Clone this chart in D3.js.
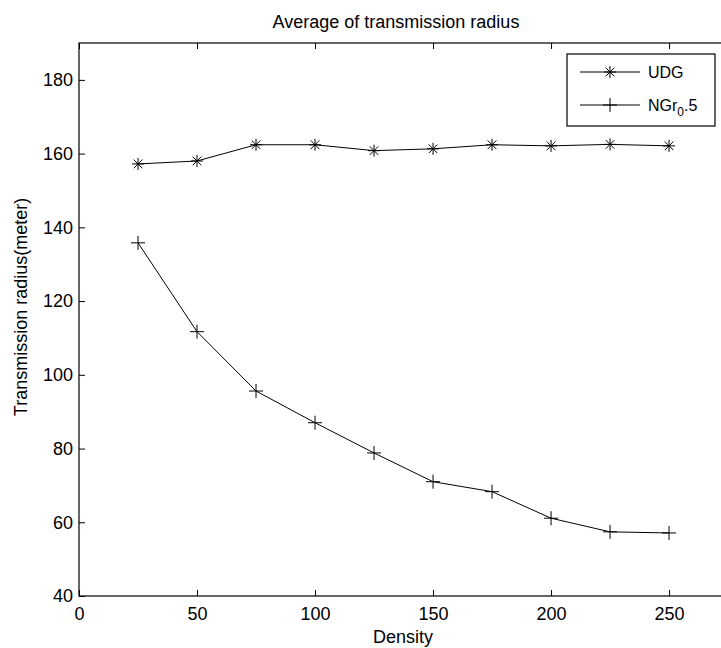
<!DOCTYPE html>
<meta charset="utf-8">
<style>
body { margin: 0; background: #fff; overflow: hidden; }
text { font-family: "Liberation Sans", Arial, sans-serif; fill: #000; }
.axis path, .axis line { stroke: #000; }
</style>
<svg width="721" height="648"></svg>
<script src="https://d3js.org/d3.v7.min.js"></script>
<script>

var density = [25, 50, 75, 100, 125, 150, 175, 200, 225, 250];
var udg = [157.2, 158.0, 162.4, 162.4, 160.8, 161.3, 162.4, 162.1, 162.5, 162.1];
var ngr = [135.8, 111.7, 95.6, 87.0, 78.8, 71.0, 68.3, 61.1, 57.4, 57.1];
var xTicks = [0, 50, 100, 150, 200, 250];
var yTicks = [40, 60, 80, 100, 120, 140, 160, 180];

var svg = d3.select("svg"),
    margin = {left: 79, top: 43, right: -4, bottom: 52},
    width = +svg.attr("width") - margin.left - margin.right,
    height = +svg.attr("height") - margin.top - margin.bottom;

// the axes box runs slightly past the right edge of the picture
var x = d3.scaleLinear().domain([0, 273.7]).range([0, width]);
var y = d3.scaleLinear().domain([40, 190]).range([height, 0]);

var g = svg.append("g").attr("transform", "translate(" + margin.left + "," + margin.top + ")");

// axes with inward ticks, MATLAB style box
g.append("g").attr("class", "axis")
    .attr("transform", "translate(0," + height + ")")
    .call(d3.axisBottom(x).tickValues(xTicks).tickSizeInner(-6).tickSizeOuter(0).tickPadding(11))
    .call(function(a) { a.selectAll("text").attr("font-size", 18); a.select(".domain").remove(); });
g.append("g").attr("class", "axis")
    .call(d3.axisLeft(y).tickValues(yTicks).tickSizeInner(-6).tickSizeOuter(0).tickPadding(6))
    .call(function(a) { a.selectAll("text").attr("font-size", 18); a.select(".domain").remove(); });
g.append("g").attr("class", "axis")
    .call(d3.axisTop(x).tickValues(xTicks).tickSizeInner(-6).tickSizeOuter(0).tickFormat(""))
    .call(function(a) { a.select(".domain").remove(); });

g.append("rect")
    .attr("width", width).attr("height", height)
    .attr("fill", "none").attr("stroke", "#000").attr("stroke-width", 1.2);

var line = d3.line().x(function(d) { return x(d[0]); }).y(function(d) { return y(d[1]); });

function star(sel) {
  var s = 6, d = s * 0.72;
  sel.append("path")
      .attr("d", "M0," + (-s) + "V" + s + "M" + (-s) + ",0H" + s +
                 "M" + (-d) + "," + (-d) + "L" + d + "," + d + "M" + (-d) + "," + d + "L" + d + "," + (-d))
      .attr("stroke", "#000").attr("stroke-width", 1).attr("fill", "none");
}
function plus(sel) {
  var s = 7;
  sel.append("path")
      .attr("d", "M0," + (-s) + "V" + s + "M" + (-s) + ",0H" + s)
      .attr("stroke", "#000").attr("stroke-width", 1).attr("fill", "none");
}

var series = [
  {name: "UDG", values: udg, marker: star},
  {name: "NGr", values: ngr, marker: plus}
];

series.forEach(function(s) {
  var pts = density.map(function(d, i) { return [d, s.values[i]]; });
  g.append("path").datum(pts)
      .attr("d", line).attr("fill", "none").attr("stroke", "#000").attr("stroke-width", 1);
  g.selectAll(null).data(pts).enter().append("g")
      .attr("transform", function(d) { return "translate(" + x(d[0]) + "," + y(d[1]) + ")"; })
      .each(function() { s.marker(d3.select(this)); });
});

// legend
var lg = svg.append("g").attr("transform", "translate(567,54)");
lg.append("rect").attr("width", 148).attr("height", 72)
    .attr("fill", "#fff").attr("stroke", "#000").attr("stroke-width", 1.2);
series.forEach(function(s, i) {
  var yy = 18 + i * 33;
  lg.append("line").attr("x1", 13).attr("x2", 73).attr("y1", yy).attr("y2", yy)
      .attr("stroke", "#000").attr("stroke-width", 1);
  s.marker(lg.append("g").attr("transform", "translate(43," + yy + ")"));
});
lg.append("text").attr("x", 81).attr("y", 24).attr("font-size", 16).text("UDG");
var t2 = lg.append("text").attr("x", 81).attr("y", 57).attr("font-size", 16);
t2.append("tspan").text("NGr");
t2.append("tspan").attr("font-size", 12).attr("dy", 5).text("0");
t2.append("tspan").attr("dy", -5).text(".5");

// titles
svg.append("text").attr("x", 396).attr("y", 28).attr("text-anchor", "middle")
    .attr("font-size", 18).text("Average of transmission radius");
svg.append("text").attr("x", 403).attr("y", 643).attr("text-anchor", "middle")
    .attr("font-size", 18).text("Density");
svg.append("text").attr("transform", "translate(27,307) rotate(-90)")
    .attr("text-anchor", "middle").attr("font-size", 18).text("Transmission radius(meter)");

</script>
